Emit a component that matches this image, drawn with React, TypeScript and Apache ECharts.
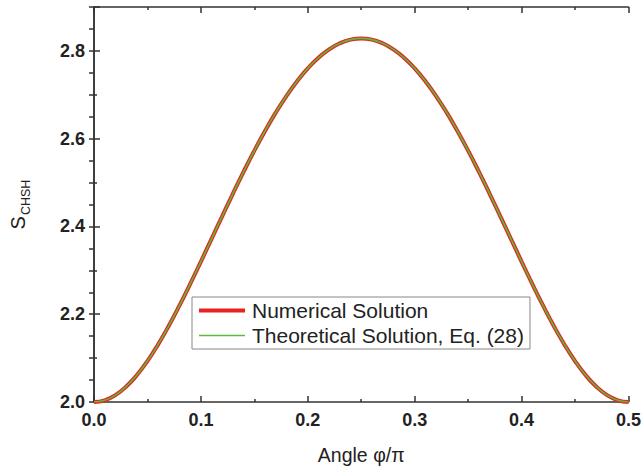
import React, { useEffect, useRef } from "react";
import * as echarts from "echarts";

// Angle phi/pi (x) and S_CHSH values
const angles = [
  0.0, 0.01, 0.02, 0.03, 0.04, 0.05, 0.06, 0.07, 0.08, 0.09, 0.1,
  0.11, 0.12, 0.13, 0.14, 0.15, 0.16, 0.17, 0.18, 0.19, 0.2,
  0.21, 0.22, 0.23, 0.24, 0.25, 0.26, 0.27, 0.28, 0.29, 0.3,
  0.31, 0.32, 0.33, 0.34, 0.35, 0.36, 0.37, 0.38, 0.39, 0.4,
  0.41, 0.42, 0.43, 0.44, 0.45, 0.46, 0.47, 0.48, 0.49, 0.5,
];
const numerical = [
  2.0, 2.0039, 2.0156, 2.0348, 2.0609, 2.0933, 2.1312, 2.1737, 2.22, 2.269, 2.3199,
  2.3718, 2.4237, 2.475, 2.5248, 2.5726, 2.6175, 2.6593, 2.6972, 2.7309, 2.7601,
  2.7844, 2.8035, 2.8173, 2.8256, 2.8284, 2.8256, 2.8173, 2.8035, 2.7844, 2.7601,
  2.7309, 2.6972, 2.6593, 2.6175, 2.5726, 2.5248, 2.475, 2.4237, 2.3718, 2.3199,
  2.269, 2.22, 2.1737, 2.1312, 2.0933, 2.0609, 2.0348, 2.0156, 2.0039, 2.0,
];
const theoretical = [
  2.0, 2.0039, 2.0156, 2.0348, 2.0609, 2.0933, 2.1312, 2.1737, 2.22, 2.269, 2.3199,
  2.3718, 2.4237, 2.475, 2.5248, 2.5726, 2.6175, 2.6593, 2.6972, 2.7309, 2.7601,
  2.7844, 2.8035, 2.8173, 2.8256, 2.8284, 2.8256, 2.8173, 2.8035, 2.7844, 2.7601,
  2.7309, 2.6972, 2.6593, 2.6175, 2.5726, 2.5248, 2.475, 2.4237, 2.3718, 2.3199,
  2.269, 2.22, 2.1737, 2.1312, 2.0933, 2.0609, 2.0348, 2.0156, 2.0039, 2.0,
];
const seriesNames = ["Numerical Solution", "Theoretical Solution, Eq. (28)"];

const FONT = 'Arial, "Liberation Sans", Helvetica, sans-serif';
const AXIS_COLOR = "#333";
const RED = "#e8231f";
const GREEN = "#5cba3c";

export default function App() {
  const ref = useRef<HTMLDivElement>(null);
  useEffect(() => {
    if (!ref.current) return;
    const chart = echarts.init(ref.current, undefined, { renderer: "svg" });
    const lineCommon = { color: AXIS_COLOR, width: 1.5 };
    chart.setOption({
      animation: false,
      backgroundColor: "#fff",
      grid: { left: 93, right: 14, top: 7, bottom: 70, containLabel: false },
      legend: {
        orient: "vertical",
        left: 192,
        top: 297,
        width: 339,
        padding: [3, 6, 3, 5],
        itemGap: 4,
        itemWidth: 46,
        itemHeight: 14,
        borderColor: "#888",
        borderWidth: 1,
        itemStyle: { color: "rgba(0,0,0,0)", borderWidth: 0, opacity: 0 },
        textStyle: { fontFamily: FONT, fontSize: 21, color: "#222", padding: [0, 0, 0, 2] },
        data: [
          { name: seriesNames[0], lineStyle: { width: 4, color: RED } },
          { name: seriesNames[1], lineStyle: { width: 1.6, color: GREEN } },
        ],
      },
      xAxis: [
        {
          type: "value",
          min: 0,
          max: 0.5,
          interval: 0.1,
          name: "Angle \u03c6/\u03c0",
          nameLocation: "middle",
          nameGap: 43,
          nameTextStyle: { fontFamily: FONT, fontSize: 19.5, color: "#222", verticalAlign: "top" },
          axisLine: { lineStyle: lineCommon },
          axisTick: { inside: true, length: 6, lineStyle: lineCommon },
          minorTick: { show: true, splitNumber: 2, length: 3, lineStyle: lineCommon },
          splitLine: { show: false },
          axisLabel: {
            fontFamily: FONT,
            fontSize: 18,
            fontWeight: "bold",
            color: "#222",
            margin: 9,
            formatter: (v: number) => v.toFixed(1),
          },
        },
        {
          type: "value",
          position: "top",
          min: 0,
          max: 0.5,
          interval: 0.1,
          axisLine: { lineStyle: lineCommon },
          axisTick: { inside: true, length: 6, lineStyle: lineCommon },
          minorTick: { show: true, splitNumber: 2, length: 3, lineStyle: lineCommon },
          splitLine: { show: false },
          axisLabel: { show: false },
        },
      ],
      yAxis: [
        {
          type: "value",
          min: 2.0,
          max: 2.9,
          interval: 0.2,
          name: "{s|S}{sub|CHSH}",
          nameLocation: "middle",
          nameGap: 66,
          nameRotate: 90,
          nameTextStyle: {
            fontFamily: FONT,
            color: "#222",
            rich: {
              s: { fontFamily: FONT, fontSize: 20, color: "#222", verticalAlign: "bottom", lineHeight: 22 },
              sub: { fontFamily: FONT, fontSize: 12.5, color: "#222", verticalAlign: "bottom", padding: [0, 0, -4, 1], lineHeight: 22 },
            },
          },
          axisLine: { lineStyle: lineCommon },
          axisTick: { inside: true, length: 6, lineStyle: lineCommon },
          minorTick: { show: true, splitNumber: 2, length: 3, lineStyle: lineCommon },
          splitLine: { show: false },
          axisLabel: {
            fontFamily: FONT,
            fontSize: 18,
            fontWeight: "bold",
            color: "#222",
            margin: 9,
            formatter: (v: number) => (v > 2.85 ? "" : v.toFixed(1)),
          },
        },
        {
          type: "value",
          position: "right",
          min: 2.0,
          max: 2.9,
          interval: 0.1,
          axisLine: { lineStyle: lineCommon },
          axisTick: { inside: true, length: 5, lineStyle: lineCommon },
          minorTick: { show: true, splitNumber: 2, length: 5, lineStyle: lineCommon },
          splitLine: { show: false },
          axisLabel: { show: false },
        },
      ],
      series: [
        {
          name: seriesNames[0],
          type: "line",
          symbol: "none",
          smooth: true,
          color: RED,
          lineStyle: { width: 4, color: RED },
          data: angles.map((a, i) => [a, numerical[i]]),
          z: 2,
        },
        {
          name: seriesNames[1],
          type: "line",
          symbol: "none",
          smooth: true,
          color: GREEN,
          lineStyle: { width: 1.6, color: GREEN },
          data: angles.map((a, i) => [a, theoretical[i]]),
          z: 3,
        },
      ],
    });
    return () => chart.dispose();
  }, []);
  return (
    <div
      ref={ref}
      style={{ position: "fixed", left: 0, top: 0, width: 644, height: 472, background: "#fff" }}
    />
  );
}
